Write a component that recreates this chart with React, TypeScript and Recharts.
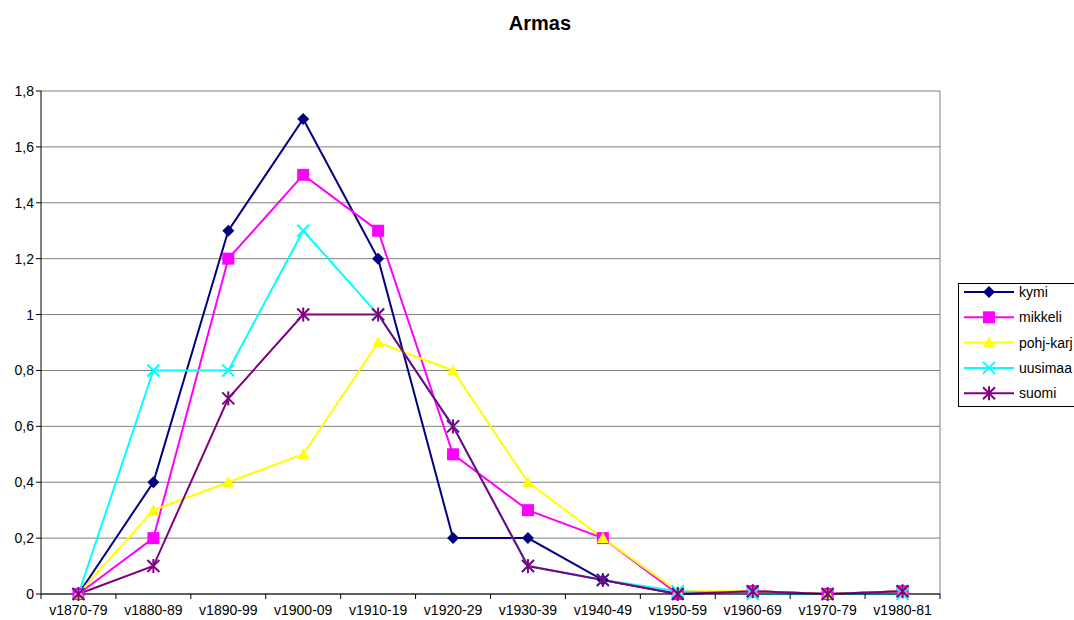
import React from 'react';
import { LineChart, Line, XAxis, YAxis, CartesianGrid } from 'recharts';

const categories = ['v1870-79','v1880-89','v1890-99','v1900-09','v1910-19','v1920-29','v1930-39','v1940-49','v1950-59','v1960-69','v1970-79','v1980-81'];
const kymi = [0, 0.4, 1.3, 1.7, 1.2, 0.2, 0.2, 0.05, 0, 0.01, 0, 0.01];
const mikkeli = [0, 0.2, 1.2, 1.5, 1.3, 0.5, 0.3, 0.2, 0, 0.01, 0, 0.01];
const pohjKarj = [0, 0.3, 0.4, 0.5, 0.9, 0.8, 0.4, 0.2, 0.01, 0.01, 0, 0.01];
const uusimaa = [0, 0.8, 0.8, 1.3, 1.0, 0.6, 0.1, 0.05, 0.01, 0, 0, 0];
const suomi = [0, 0.1, 0.7, 1.0, 1.0, 0.6, 0.1, 0.05, 0, 0.01, 0, 0.01];
const yTicks = [0, 0.2, 0.4, 0.6, 0.8, 1, 1.2, 1.4, 1.6, 1.8];

const seriesDefs = [
  { key: 'kymi', name: 'kymi', color: '#000080', shape: 'diamond', values: kymi },
  { key: 'mikkeli', name: 'mikkeli', color: '#FF00FF', shape: 'square', values: mikkeli },
  { key: 'pohjKarj', name: 'pohj-karj', color: '#FFFF00', shape: 'triangle', values: pohjKarj },
  { key: 'uusimaa', name: 'uusimaa', color: '#00FFFF', shape: 'x', values: uusimaa },
  { key: 'suomi', name: 'suomi', color: '#800080', shape: 'star', values: suomi },
];

const data = categories.map((c, i) => {
  const row: any = { cat: c };
  seriesDefs.forEach(s => { row[s.key] = s.values[i]; });
  return row;
});

const FONT = 'Liberation Sans, Arial, sans-serif';

function Marker({ cx, cy, color, shape }: any) {
  if (cx == null || cy == null) return null;
  switch (shape) {
    case 'diamond':
      return <polygon points={`${cx},${cy - 6} ${cx + 6},${cy} ${cx},${cy + 6} ${cx - 6},${cy}`} fill={color} />;
    case 'square':
      return <rect x={cx - 6} y={cy - 6} width={12} height={12} fill={color} />;
    case 'triangle':
      return <polygon points={`${cx},${cy - 6} ${cx + 6},${cy + 5} ${cx - 6},${cy + 5}`} fill={color} />;
    case 'x':
      return <g stroke={color} strokeWidth={2}>
        <line x1={cx - 6} y1={cy - 6} x2={cx + 6} y2={cy + 6} />
        <line x1={cx - 6} y1={cy + 6} x2={cx + 6} y2={cy - 6} />
      </g>;
    case 'star':
      return <g stroke={color} strokeWidth={2}>
        <line x1={cx - 6} y1={cy - 6} x2={cx + 6} y2={cy + 6} />
        <line x1={cx - 6} y1={cy + 6} x2={cx + 6} y2={cy - 6} />
        <line x1={cx} y1={cy - 7} x2={cx} y2={cy + 7} />
      </g>;
    default:
      return null;
  }
}

const PLOT_LEFT = 41;
const PLOT_RIGHT = 940;
const BAND = (PLOT_RIGHT - PLOT_LEFT) / categories.length;

function XTick(props: any) {
  const { x, y, payload, index } = props;
  const isLast = index === categories.length - 1;
  return (
    <g>
      <line x1={x - BAND / 2} y1={y - 8} x2={x - BAND / 2} y2={y - 3} stroke="#000" />
      {isLast && <line x1={x + BAND / 2} y1={y - 8} x2={x + BAND / 2} y2={y - 3} stroke="#000" />}
      <text x={x} y={y + 13} textAnchor="middle" fontSize={14} fill="#000" fontFamily={FONT}>{payload.value}</text>
    </g>
  );
}

function LegendBox() {
  return (
    <div style={{ position: 'absolute', left: 958, top: 283, width: 130, height: 124, border: '1px solid #000', background: '#fff', boxSizing: 'border-box' }}>
      <svg width={130} height={124} style={{ position: 'absolute', left: 0, top: 0 }}>
        {seriesDefs.map((s, i) => {
          const cy = 8 + i * 25.3;
          return (
            <g key={s.key}>
              <line x1={5} y1={cy} x2={55} y2={cy} stroke={s.color} strokeWidth={2} />
              <Marker cx={30} cy={cy} color={s.color} shape={s.shape} />
              <text x={60} y={cy + 5} fontSize={14} fill="#000" fontFamily={FONT}>{s.name}</text>
            </g>
          );
        })}
      </svg>
    </div>
  );
}

export default function App() {
  return (
    <div style={{ position: 'absolute', left: 0, top: 0, width: 1074, height: 620, background: '#fff', overflow: 'hidden', fontFamily: FONT }}>
      <div style={{ position: 'absolute', left: 0, top: 12, width: 1080, textAlign: 'center', fontWeight: 'bold', fontSize: 20 }}>Armas</div>
      <LineChart width={1074} height={620} data={data} margin={{ top: 91, right: 134, bottom: 0, left: 0 }}>
        <CartesianGrid vertical={true} verticalPoints={[PLOT_RIGHT]} stroke="#808080" strokeWidth={1} />
        <XAxis dataKey="cat" height={26} tick={<XTick />} tickLine={false} axisLine={{ stroke: '#000' }} interval={0} padding={{ left: BAND / 2, right: BAND / 2 }} />
        <YAxis width={41} domain={[0, 1.8]} ticks={yTicks} tickFormatter={(v: number) => String(Math.round(v * 10) / 10).replace('.', ',')}
          tick={{ fontSize: 14, fill: '#000', fontFamily: FONT }} tickSize={5} tickLine={{ stroke: '#000' }} axisLine={{ stroke: '#000' }} allowDecimals />
        {seriesDefs.map(s => (
          <Line key={s.key} dataKey={s.key} name={s.name} stroke={s.color} strokeWidth={2} isAnimationActive={false}
            dot={(p: any) => <Marker key={`${s.key}-${p.index}`} cx={p.cx} cy={p.cy} color={s.color} shape={s.shape} />} activeDot={false} />
        ))}
      </LineChart>
      <LegendBox />
    </div>
  );
}
